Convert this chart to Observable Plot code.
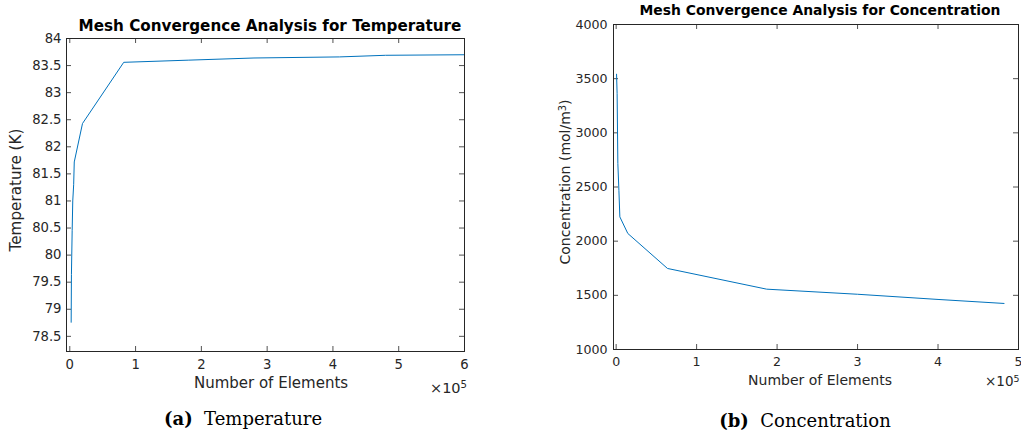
<!DOCTYPE html>
<html><head><meta charset="utf-8">
<script src="https://cdn.jsdelivr.net/npm/d3@7"></script>
<script src="https://cdn.jsdelivr.net/npm/@observablehq/plot@0.6"></script>
<style>
html,body{margin:0;padding:0;background:#fff;}
body{width:1021px;height:431px;position:relative;overflow:hidden;font-family:"DejaVu Sans",sans-serif;color:#262626;}
.abs{position:absolute;white-space:nowrap;line-height:1;}
.title{font-weight:bold;color:#000;}
.cap{font-family:"DejaVu Serif",serif;color:#000;}
.rot{transform:translate(-50%,-50%) rotate(-90deg);}
.ctr{transform:translateX(-50%);}
sup{font-size:70%;vertical-align:0;position:relative;top:-0.45em;}
</style></head><body>
<script>
// ---- Data ----
const tempElements = [2100, 2500, 3600, 4500, 5900, 6800, 19300, 82000, 180000, 280000, 410000, 480000, 600000];
const tempValues   = [78.76, 79.64, 80.45, 81.0, 81.3, 81.72, 82.43, 83.56, 83.6, 83.64, 83.66, 83.69, 83.70];
const concElements = [500, 1200, 2100, 3400, 4600, 14500, 63800, 187000, 300000, 400000, 482000];
const concValues   = [3541, 3363, 2717, 2470, 2224, 2071, 1748, 1557, 1510, 1462, 1425];
const tempXTicks = [0, 100000, 200000, 300000, 400000, 500000, 600000];
const tempYTicks = [78.5, 79, 79.5, 80, 80.5, 81, 81.5, 82, 82.5, 83, 83.5, 84];
const concXTicks = [0, 100000, 200000, 300000, 400000, 500000];
const concYTicks = [1000, 1500, 2000, 2500, 3000, 3500, 4000];

const ink = "#262626";
const lineColor = "#0072BD";

function chart({data, xTicks, yTicks, width, height, ml, mt, mr, mb, xDomain, yDomain, fontSize, xPad, yPad, yFmt}) {
  const iw = width - ml - mr, ih = height - mt - mb, tl = 5;
  return Plot.plot({
    width, height, marginLeft: ml, marginTop: mt, marginRight: mr, marginBottom: mb,
    x: {domain: xDomain}, y: {domain: yDomain},
    style: {fontFamily: "DejaVu Sans", fontSize: fontSize + "px", color: ink, background: "white", overflow: "visible"},
    marks: [
      Plot.tickX(xTicks, {x: d => d, insetTop: ih - tl, stroke: ink, strokeWidth: 0.8}),
      Plot.tickX(xTicks, {x: d => d, insetBottom: ih - tl, stroke: ink, strokeWidth: 0.8}),
      Plot.tickY(yTicks, {y: d => d, insetRight: iw - tl, stroke: ink, strokeWidth: 0.8}),
      Plot.tickY(yTicks, {y: d => d, insetLeft: iw - tl, stroke: ink, strokeWidth: 0.8}),
      Plot.axisX(xTicks, {anchor: "bottom", tickSize: 0, tickPadding: xPad, tickFormat: d => d / 1e5, label: null, fontSize}),
      Plot.axisY(yTicks, {anchor: "left", tickSize: 0, tickPadding: yPad, tickFormat: yFmt, label: null, fontSize}),
      Plot.line(data, {x: "n", y: "v", stroke: lineColor, strokeWidth: 1}),
      Plot.frame({stroke: ink, strokeWidth: 1})
    ]
  });
}

const tempData = tempElements.map((n, i) => ({n, v: tempValues[i]}));
const concData = concElements.map((n, i) => ({n, v: concValues[i]}));

const left = chart({data: tempData, xTicks: tempXTicks, yTicks: tempYTicks, width: 480, height: 400,
  ml: 66, mt: 38, mr: 16, mb: 49, xDomain: [-5000, 600000], yDomain: [78.22, 84], fontSize: 13.2, xPad: 8, yPad: 5,
  yFmt: d => String(d)});
const right = chart({data: concData, xTicks: concXTicks, yTicks: concYTicks, width: 481, height: 400,
  ml: 73, mt: 24, mr: 3, mb: 51, xDomain: [-3300, 500000], yDomain: [1000, 4000], fontSize: 12.6, xPad: 8, yPad: 6,
  yFmt: d => String(d)});

function place(el, x, y) { el.style.position = "absolute"; el.style.left = x + "px"; el.style.top = y + "px"; document.body.appendChild(el); }
place(left, 0, 0);
place(right, 540, 0);

function txt(html, cls, x, y, size) {
  const d = document.createElement("div");
  d.className = "abs " + cls; d.innerHTML = html; d.style.left = x + "px"; d.style.top = y + "px"; d.style.fontSize = size + "px";
  document.body.appendChild(d); return d;
}
txt("Mesh Convergence Analysis for Temperature", "title ctr", 270, 19, 15.2);
txt("Mesh Convergence Analysis for Concentration", "title ctr", 820, 4, 13.9);
txt("Temperature (K)", "rot", 17, 190, 15.2);
txt("Concentration (mol/m<sup>3</sup>)", "rot", 565, 182, 14);
txt("Number of Elements", "ctr", 271, 376, 15);
txt("Number of Elements", "ctr", 820, 373, 14);
txt("×10<sup>5</sup>", "", 430, 381, 14.5);
txt("×10<sup>5</sup>", "", 985, 375, 13.5);
txt("<b>(a)</b>&nbsp; Temperature", "cap ctr", 243, 410, 18);
txt("<b>(b)</b>&nbsp; Concentration", "cap ctr", 805, 412, 18);
</script>
</body></html>
